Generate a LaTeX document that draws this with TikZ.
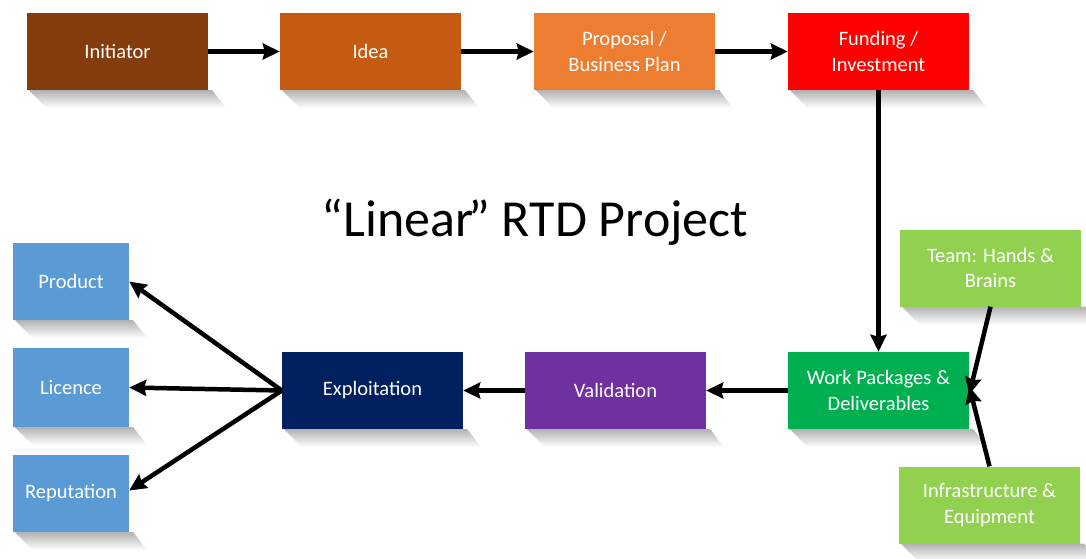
\documentclass[tikz,border=0pt]{standalone}
\usepackage{fontspec}
\setmainfont{Carlito}
\usetikzlibrary{arrows.meta,backgrounds}
\definecolor{cInit}{HTML}{843C0C}
\definecolor{cIdea}{HTML}{C55A11}
\definecolor{cProp}{HTML}{ED7D31}
\definecolor{cFund}{HTML}{FF0000}
\definecolor{cLight}{HTML}{92D050}
\definecolor{cWork}{HTML}{00B050}
\definecolor{cVal}{HTML}{7030A0}
\definecolor{cExp}{HTML}{002060}
\definecolor{cBlue}{HTML}{5B9BD5}
\tikzset{
  box/.style={minimum width=181pt, minimum height=77pt, inner sep=0pt, text=white,
    align=center, font=\fontsize{20.5}{25.5}\selectfont},
  sbox/.style={box, minimum width=116pt},
  arr/.style={line width=4.5pt, -{Stealth[length=17pt,width=16pt,inset=2pt]}},
}
\newcommand{\boxshadow}[1]{%
  \shade[top color=black!30, bottom color=white, draw=none]
    ([xshift=2pt]#1.south west) -- ([xshift=4pt]#1.south east) -- ([xshift=18pt,yshift=-18pt]#1.south east) -- ([xshift=20pt,yshift=-18pt]#1.south west) -- cycle;}
\begin{document}
\begin{tikzpicture}[x=1pt,y=-1pt]
\useasboundingbox (0,0) rectangle (1086,558);
% nodes
\node[box, fill=cInit] (init) at (117.5,51.5) {Initiator};
\node[box, fill=cIdea] (idea) at (370.5,51.5) {Idea};
\node[box, fill=cProp] (prop) at (624.5,51.5) {Proposal /\\Business Plan};
\node[box, fill=cFund] (fund) at (878.5,51.5) {Funding /\\Investment};
\node[box, fill=cLight] (team) at (990.5,268) {Team: Hands \&\\Brains};
\node[box, fill=cWork] (work) at (878.5,390.5) {Work Packages \&\\Deliverables};
\node[box, fill=cLight] (infra) at (989.5,505) {Infrastructure \&\\Equipment};
\node[box, fill=cVal] (val) at (615.5,390.5) {Validation};
\node[box, fill=cExp] (exp) at (372.5,390.5) {Exploitation};
\node[sbox, fill=cBlue] (prod) at (71,281.5) {Product};
\node[sbox, fill=cBlue, minimum height=79pt] (lic) at (71,387.5) {Licence};
\node[sbox, fill=cBlue] (rep) at (71,493.5) {Reputation};
% shadows
\begin{pgfonlayer}{background}
\foreach \n in {init,idea,prop,fund,team,work,infra,val,exp,prod,lic,rep}{\boxshadow{\n}}
\end{pgfonlayer}
% title
\node (title) at (535,222) {\fontsize{52}{62}\selectfont “Linear\kern-5pt” RTD Project};
% arrows
\draw[arr] (init.east) -- (idea.west);
\draw[arr] (idea.east) -- (prop.west);
\draw[arr] (prop.east) -- (fund.west);
\draw[arr] (fund.south) -- (work.north);
\draw[arr] (team.south) -- ([yshift=-4pt]work.east);
\draw[arr] (infra.north) -- ([yshift=4pt]work.east);
\draw[arr] (work.west) -- (val.east);
\draw[arr] (val.west) -- (exp.east);
\draw[arr] (exp.west) -- (prod.east);
\draw[arr] (exp.west) -- (lic.east);
\draw[arr] (exp.west) -- ([yshift=3pt]rep.east);
\end{tikzpicture}
\end{document}
